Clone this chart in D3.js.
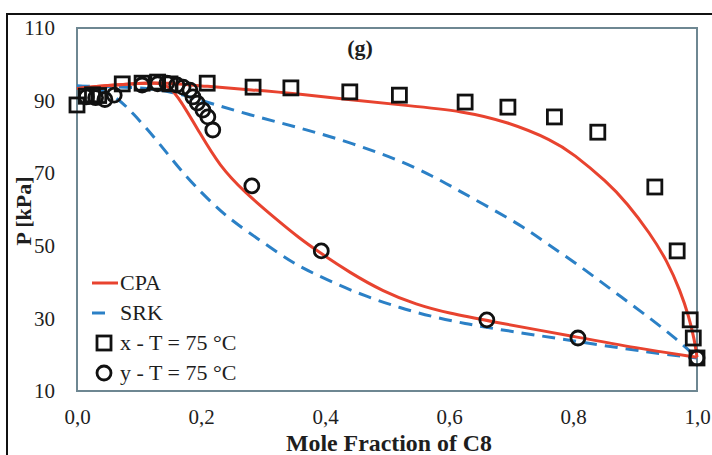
<!DOCTYPE html>
<html lang="en">
<head>
	<meta charset="utf-8">
	<title>VLE C8 - (g)</title>
	<script type="text/javascript" src="https://cdn.jsdelivr.net/npm/d3@7"></script>
	<style type="text/css">
		body {
			margin: 0;
			background: #fff;
		}
		svg text {
			font-family: 'Liberation Serif', 'Times New Roman', serif;
			fill: #1e1e1e;
		}
	</style>
</head>
<body>
	<div id="viz"></div>
	<script type="text/javascript">
		const WIDTH = 712;
		const HEIGHT = 455;

		// x - T = 75 °C (squares)
		var xSquare = [0, 0.015, 0.025, 0.035, 0.073, 0.105, 0.13, 0.15, 0.21, 0.284, 0.345, 0.44, 0.52, 0.626, 0.695, 0.77, 0.84, 0.932, 0.968, 0.989, 0.994, 1.0];
		var pSquare = [88.8, 91.2, 91.6, 91.4, 94.6, 94.8, 95.1, 94.6, 94.8, 93.7, 93.5, 92.4, 91.5, 89.6, 88.2, 85.5, 81.3, 66.2, 48.6, 29.6, 24.6, 19.1];

		// y - T = 75 °C (circles)
		var xCircle = [0.015, 0.03, 0.045, 0.06, 0.105, 0.13, 0.145, 0.161, 0.171, 0.182, 0.187, 0.194, 0.203, 0.211, 0.219, 0.282, 0.394, 0.661, 0.808, 1.0];
		var pCircle = [91, 90.8, 90.3, 91.5, 94.3, 94.6, 94.8, 94.3, 93.7, 92.9, 91.0, 89.3, 87.4, 85.5, 81.9, 66.5, 48.6, 29.6, 24.6, 19.1];

		// CPA model
		var xCpaBubble = [0, 0.05, 0.1, 0.14, 0.21, 0.28, 0.36, 0.44, 0.53, 0.623, 0.694, 0.768, 0.8, 0.855, 0.887, 0.924, 0.952, 0.973, 0.987, 0.996, 1.0];
		var pCpaBubble = [93.3, 94.2, 94.8, 95, 93.9, 93, 91.8, 90.2, 88.7, 87.1, 84.2, 79, 75.4, 67.6, 61.8, 53.5, 45.8, 37.6, 30.5, 24, 19.3];
		var xCpaDew = [0, 0.05, 0.1, 0.135, 0.15, 0.166, 0.198, 0.23, 0.27, 0.323, 0.358, 0.39, 0.44, 0.494, 0.547, 0.6, 0.661, 0.808, 0.9, 1.0];
		var pCpaDew = [93.3, 94.2, 94.8, 95, 93.6, 90.4, 81.1, 72, 64.8, 57.1, 52.2, 48.3, 42.6, 37.4, 33.8, 31.4, 29.4, 24.8, 21.9, 19.3];

		// SRK model
		var xSrkBubble = [0, 0.1, 0.15, 0.198, 0.279, 0.36, 0.44, 0.52, 0.574, 0.618, 0.671, 0.72, 0.758, 0.81, 0.865, 0.924, 0.968, 1.0];
		var pSrkBubble = [94, 93.7, 92.6, 90.2, 86, 82.5, 78.5, 73.6, 69.2, 65, 60, 55.2, 50.6, 44.6, 37.5, 30.1, 24.2, 19.1];
		var xSrkDew = [0, 0.03, 0.064, 0.09, 0.129, 0.177, 0.225, 0.252, 0.333, 0.36, 0.413, 0.467, 0.521, 0.574, 0.628, 0.671, 0.808, 0.924, 1.0];
		var pSrkDew = [94, 93.6, 91, 86.6, 79.1, 68.6, 60.6, 56.6, 47, 44.2, 39.8, 36, 32.9, 30.4, 28.5, 27.2, 23.6, 20.6, 19.1];

		var xTicks = [0, 0.2, 0.4, 0.6, 0.8, 1.0];
		var yTicks = [10, 30, 50, 70, 90, 110];

		var legendItems = ['CPA', 'SRK', 'x - T = 75 °C', 'y - T = 75 °C'];

		var RED = '#e8432f';
		var BLUE = '#2b80c6';
		var FRAME = '#6e8792';
		var SERIF = "'Liberation Serif', 'Times New Roman', serif";

		var margin = {left: 77, top: 28, right: 15, bottom: 64};
		var pw = WIDTH - margin.left - margin.right;
		var ph = HEIGHT - margin.top - margin.bottom;

		var x = d3.scaleLinear().domain([0, 1]).range([0, pw]);
		var y = d3.scaleLinear().domain([10, 110]).range([ph, 0]);

		function zip(xs, ps) {
			return xs.map(function(v, i) { return [v, ps[i]]; });
		}

		var fmt = function(d) { return d3.format('.1f')(d).replace('.', ','); };

		var svg = d3.select('#viz')
			.append('svg')
			.attr('width', WIDTH)
			.attr('height', HEIGHT);

		// outer picture border (top + left)
		svg.append('line')
			.attr('x1', 6).attr('y1', 14).attr('x2', WIDTH).attr('y2', 14)
			.attr('stroke', '#111').attr('stroke-width', 2);
		svg.append('line')
			.attr('x1', 7).attr('y1', 13).attr('x2', 7).attr('y2', HEIGHT)
			.attr('stroke', '#111').attr('stroke-width', 2);

		var g = svg.append('g')
			.attr('transform', 'translate(' + margin.left + ',' + margin.top + ')');

		// tick labels via axes, no tick lines
		g.append('g')
			.attr('transform', 'translate(0,' + ph + ')')
			.call(d3.axisBottom(x).tickValues(xTicks).tickFormat(fmt).tickSize(0).tickPadding(18))
			.attr('font-family', SERIF);
		g.append('g')
			.call(d3.axisLeft(y).tickValues(yTicks).tickSize(0).tickPadding(22))
			.attr('font-family', SERIF);
		svg.selectAll('.domain').remove();
		svg.selectAll('.tick text')
			.attr('font-size', 21)
			.attr('fill', '#1e1e1e');

		g.append('rect')
			.attr('x', 0).attr('y', 0)
			.attr('width', pw).attr('height', ph)
			.attr('fill', 'none')
			.attr('stroke', FRAME)
			.attr('stroke-width', 2);

		var line = d3.line()
			.x(function(d) { return x(d[0]); })
			.y(function(d) { return y(d[1]); })
			.curve(d3.curveBasis);

		var curves = [
			{pts: zip(xSrkBubble, pSrkBubble), color: BLUE, dash: '13,8'},
			{pts: zip(xSrkDew, pSrkDew), color: BLUE, dash: '13,8'},
			{pts: zip(xCpaBubble, pCpaBubble), color: RED, dash: null},
			{pts: zip(xCpaDew, pCpaDew), color: RED, dash: null}
		];

		g.selectAll('path.model')
			.data(curves)
			.enter()
			.append('path')
			.attr('class', 'model')
			.attr('d', function(d) { return line(d.pts); })
			.attr('fill', 'none')
			.attr('stroke', function(d) { return d.color; })
			.attr('stroke-width', 3)
			.attr('stroke-dasharray', function(d) { return d.dash; });

		var S = 14;
		g.selectAll('rect.sq')
			.data(zip(xSquare, pSquare))
			.enter()
			.append('rect')
			.attr('class', 'sq')
			.attr('x', function(d) { return x(d[0]) - S / 2; })
			.attr('y', function(d) { return y(d[1]) - S / 2; })
			.attr('width', S).attr('height', S)
			.attr('fill', 'none')
			.attr('stroke', '#111')
			.attr('stroke-width', 2.8);

		g.selectAll('circle.ci')
			.data(zip(xCircle, pCircle))
			.enter()
			.append('circle')
			.attr('class', 'ci')
			.attr('cx', function(d) { return x(d[0]); })
			.attr('cy', function(d) { return y(d[1]); })
			.attr('r', 7)
			.attr('fill', 'none')
			.attr('stroke', '#111')
			.attr('stroke-width', 2.8);

		// title
		g.append('text')
			.attr('x', 283).attr('y', 27)
			.attr('text-anchor', 'middle')
			.attr('font-weight', 'bold')
			.attr('font-size', 22)
			.text('(g)');

		// axis titles
		svg.append('text')
			.attr('x', 389).attr('y', 451)
			.attr('text-anchor', 'middle')
			.attr('font-weight', 'bold')
			.attr('font-size', 24)
			.attr('textLength', 206)
			.attr('lengthAdjust', 'spacingAndGlyphs')
			.text('Mole Fraction of C8');
		svg.append('text')
			.attr('transform', 'translate(31,211) rotate(-90)')
			.attr('text-anchor', 'middle')
			.attr('font-weight', 'bold')
			.attr('font-size', 22)
			.text('P [kPa]');

		// legend
		var lg = svg.append('g').attr('transform', 'translate(92,283)');
		var rowH = 30;
		legendItems.forEach(function(label, i) {
			var row = lg.append('g').attr('transform', 'translate(0,' + i * rowH + ')');
			if (i === 0) {
				row.append('line').attr('x1', 0).attr('x2', 26).attr('y1', 0).attr('y2', 0)
					.attr('stroke', RED).attr('stroke-width', 3);
			} else if (i === 1) {
				row.append('line').attr('x1', 0).attr('x2', 13).attr('y1', 0).attr('y2', 0)
					.attr('stroke', BLUE).attr('stroke-width', 3);
			} else if (i === 2) {
				row.append('rect').attr('x', 5).attr('y', -7).attr('width', S).attr('height', S)
					.attr('fill', 'none').attr('stroke', '#111').attr('stroke-width', 2.8);
			} else {
				row.append('circle').attr('cx', 12).attr('cy', 0).attr('r', 7)
					.attr('fill', 'none').attr('stroke', '#111').attr('stroke-width', 2.8);
			}
			row.append('text')
				.attr('x', 28).attr('y', 7)
				.attr('font-size', 22)
				.text(label);
		});
	</script>
</body>
</html>
